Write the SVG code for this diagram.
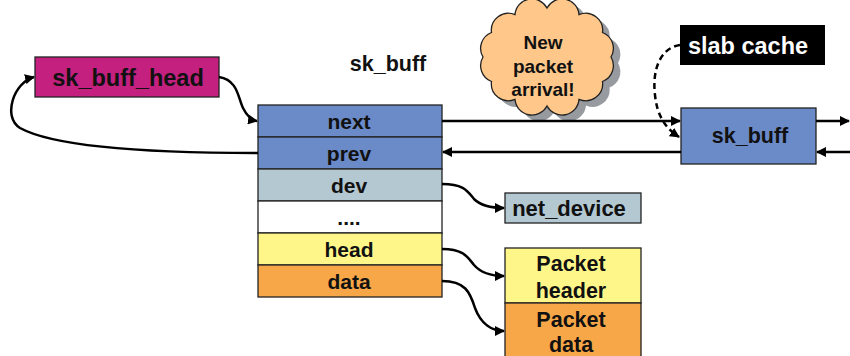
<svg xmlns="http://www.w3.org/2000/svg" width="850" height="356" viewBox="0 0 850 356">
<defs>
<marker id="ah" viewBox="0 0 10 10" refX="9" refY="5" markerWidth="4" markerHeight="4" orient="auto" markerUnits="strokeWidth">
<path d="M0,0 L10,5 L0,10 z" fill="#000"/>
</marker>
<style>
.box{stroke:#222;stroke-width:1.3}
.t{font-family:"Liberation Sans",Arial,sans-serif;font-weight:bold;fill:#111;text-anchor:middle}
.c{fill:none;stroke:#000;stroke-width:2.5}
</style>
</defs>
<rect width="850" height="356" fill="#fff"/>

<g id="cloud">
<path transform="translate(7,6)" fill="#979ba0" d="M611,57 A17,17 0 0 1 602.5,81.5 A17,17 0 0 1 579,99.4 A17,17 0 0 1 547,106 A17,17 0 0 1 515,99.4 A17,17 0 0 1 491.5,81.5 A17,17 0 0 1 483,57 A17,17 0 0 1 491.5,32.5 A17,17 0 0 1 515,14.6 A17,17 0 0 1 547,8 A17,17 0 0 1 579,14.6 A17,17 0 0 1 602.5,32.5 A17,17 0 0 1 611,57 z"/>
<path fill="#ffc78a" stroke="#222" stroke-width="1.3" d="M611,57 A17,17 0 0 1 602.5,81.5 A17,17 0 0 1 579,99.4 A17,17 0 0 1 547,106 A17,17 0 0 1 515,99.4 A17,17 0 0 1 491.5,81.5 A17,17 0 0 1 483,57 A17,17 0 0 1 491.5,32.5 A17,17 0 0 1 515,14.6 A17,17 0 0 1 547,8 A17,17 0 0 1 579,14.6 A17,17 0 0 1 602.5,32.5 A17,17 0 0 1 611,57 z"/>
<text class="t" x="543" y="49" font-size="19">New</text>
<text class="t" x="543" y="73" font-size="19">packet</text>
<text class="t" x="543" y="96" font-size="19">arrival!</text>
</g>

<g id="sk_buff_head">
<rect class="box" x="35" y="57" width="184" height="40" fill="#c3207f"/>
<text class="t" x="128" y="86" font-size="23.5">sk_buff_head</text>
</g>

<g id="label">
<text class="t" x="388" y="71" font-size="21.5">sk_buff</text>
</g>

<g id="struct">
<rect class="box" x="258" y="105" width="184" height="32" fill="#6b8ac8"/>
<rect class="box" x="258" y="137" width="184" height="32" fill="#6b8ac8"/>
<rect class="box" x="258" y="169" width="184" height="32" fill="#b4c8d2"/>
<rect class="box" x="258" y="201" width="184" height="32" fill="#ffffff"/>
<rect class="box" x="258" y="233" width="184" height="32" fill="#fff689"/>
<rect class="box" x="258" y="265" width="184" height="32" fill="#f7a748"/>
<text class="t" x="349" y="129" font-size="21">next</text>
<text class="t" x="349" y="161" font-size="21">prev</text>
<text class="t" x="349" y="193" font-size="21">dev</text>
<text class="t" x="349" y="225" font-size="21">....</text>
<text class="t" x="349" y="257" font-size="21">head</text>
<text class="t" x="349" y="289" font-size="21">data</text>
</g>

<g id="slab_cache">
<rect x="680" y="25" width="145" height="40" fill="#000"/>
<text class="t" x="748" y="54" font-size="23.5" style="fill:#fff">slab cache</text>
</g>

<g id="sk_buff2">
<rect class="box" x="681" y="108" width="135" height="56" fill="#6b8ac8"/>
<text class="t" x="750" y="143" font-size="21.5">sk_buff</text>
</g>

<g id="net_device">
<rect class="box" x="505" y="193" width="136" height="30" fill="#b4c8d2"/>
<text class="t" x="569" y="216" font-size="22">net_device</text>
</g>

<g id="packet">
<rect class="box" x="505" y="248" width="136" height="55" fill="#fff689"/>
<rect class="box" x="505" y="303" width="136" height="60" fill="#f7a748"/>
<text class="t" x="571" y="271" font-size="21.5">Packet</text>
<text class="t" x="571" y="298" font-size="21.5">header</text>
<text class="t" x="571" y="327" font-size="21.5">Packet</text>
<text class="t" x="571" y="352" font-size="21.5">data</text>
</g>

<g id="connectors">
<path class="c" marker-end="url(#ah)" d="M219,77 C238,80 238,98 243,108 C247,116 251,120 257,121"/>
<path class="c" marker-end="url(#ah)" d="M258,153 C180,153 60,150 20,128 C2,117 14,82 34,77"/>
<path class="c" marker-end="url(#ah)" d="M442,121 L680,121"/>
<path class="c" marker-end="url(#ah)" d="M681,152 L443,152"/>
<path class="c" marker-end="url(#ah)" d="M816,121 L849,121"/>
<path class="c" marker-end="url(#ah)" d="M850,152 L817,152"/>
<path class="c" stroke-dasharray="6,4" marker-end="url(#ah)" d="M680,45 C660,48 652,70 655,95 C657,115 665,128 679,137"/>
<path class="c" marker-end="url(#ah)" d="M442,184 C465,184 468,192 474,199 C481,206 492,208 504,208"/>
<path class="c" marker-end="url(#ah)" d="M442,249 C465,249 468,258 474,265 C481,273 492,276 504,276"/>
<path class="c" marker-end="url(#ah)" d="M442,281 C465,281 470,292 475,308 C481,324 492,331 504,331"/>
</g>
</svg>
